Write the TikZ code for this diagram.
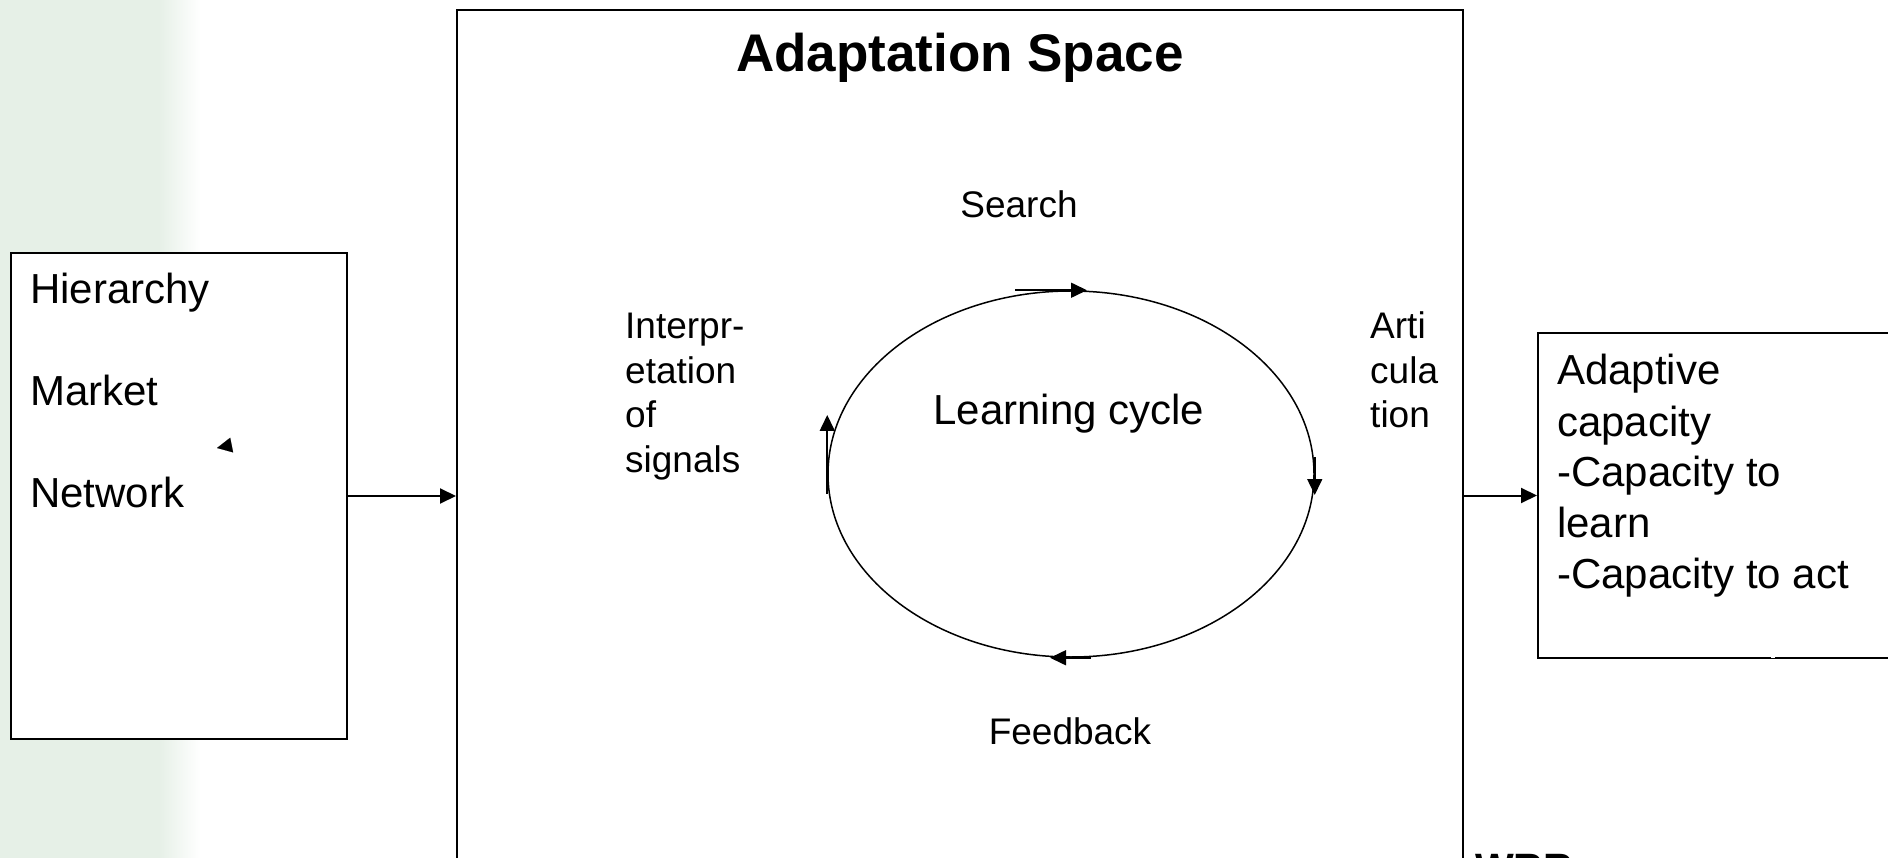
\documentclass[tikz,border=0pt]{standalone}
\usepackage{fontspec}
\setmainfont{Liberation Sans}
\usetikzlibrary{arrows.meta,shapes.geometric}
\definecolor{bgpale}{RGB}{230,240,231}
\begin{document}
\begin{tikzpicture}[x=1pt,y=-1pt,
  box/.style={draw, line width=2pt, inner sep=0pt, fill=white},
  arr/.style={line width=2pt, -{Triangle[length=16pt,width=15pt]}},
  carr/.style={line width=1.6pt, -{Triangle[length=16pt,width=15pt]}},
  lab/.style={anchor=base west, inner sep=0pt, font=\fontsize{37}{44}\selectfont},
  midlab/.style={anchor=base, inner sep=0pt, font=\fontsize{37}{44}\selectfont},
  biglab/.style={anchor=base west, inner sep=0pt, font=\fontsize{42}{50}\selectfont}
]
\useasboundingbox (0,0) rectangle (1888,858);
% pale decorative strip on the left
\fill[bgpale] (0,0) rectangle (160,858);
\shade[left color=bgpale, right color=white] (159,0) rectangle (200,858);

% boxes
\node[box, anchor=north west, minimum width=336pt, minimum height=486pt] (hier) at (10,252) {};
\node[box, anchor=north west, minimum width=1006pt, minimum height=900pt] (adapt) at (456,9) {};
\node[box, anchor=north west, minimum width=370pt, minimum height=325pt] (cap) at (1537,332) {};

% thin part of the right edge of the adaptation box
\coordinate (gA) at (1462,293);
\coordinate (gB) at (1462,617);
\draw[white, line width=2.8pt] (gA) -- (gB);
\draw[line width=1pt] (gA) -- (gB);
% small gap in the bottom edge of the right box
\coordinate (hA) at (1771,657);
\coordinate (hB) at (1775,657);
\draw[white, line width=2.8pt] (hA) -- (hB);

% left box texts
\node[biglab] (t1) at (30,304) {Hierarchy};
\node[biglab] (t2) at (30,405.5) {Market};
\node[biglab] (t3) at (30,507) {Network};
% stray arrowhead
\coordinate (sA) at (232,445);
\coordinate (sB) at (217,448);
\draw[line width=0.1pt, -{Triangle[length=15pt,width=15pt]}] (sA) -- (sB);

% title
\node[anchor=base, inner sep=0pt, font=\fontsize{53}{60}\selectfont\bfseries] (title) at (960,72) {Adaptation Space};

% learning cycle
\node[draw, ellipse, line width=1.5pt, minimum width=486pt, minimum height=366pt, inner sep=0pt] (cyc) at (1071,474) {};
\node[anchor=base, inner sep=0pt, font=\fontsize{42}{50}\selectfont] (lc) at (1069,425) {Learning cycle};
\draw[carr] ([xshift=-56pt]cyc.north) -- ([xshift=16pt]cyc.north);
\draw[carr] ([yshift=17pt]cyc.east) -- ([yshift=-21pt]cyc.east);
\draw[carr] ([xshift=20pt]cyc.south) -- ([xshift=-21pt]cyc.south);
\draw[carr] ([yshift=-20pt]cyc.west) -- ([yshift=59pt]cyc.west);

\node[midlab] (search) at (1019,218) {Search};
\node[midlab] (feed) at (1070,744) {Feedback};

\node[lab] (i1) at (625,339) {Interpr-};
\node[lab] (i2) at (625,383.5) {etation};
\node[lab] (i3) at (625,428) {of};
\node[lab] (i4) at (625,472.5) {signals};

\node[lab] (a1) at (1370,339) {Arti};
\node[lab] (a2) at (1370,383.5) {cula};
\node[lab] (a3) at (1370,428) {tion};

% right box texts
\node[biglab] (c1) at (1557,385) {Adaptive};
\node[biglab] (c2) at (1557,436) {capacity};
\node[biglab] (c3) at (1557,486.5) {-Capacity to};
\node[biglab] (c4) at (1557,537) {learn};
\node[biglab] (c5) at (1557,588) {-Capacity to act};

% connectors
\draw[arr] (hier.east) -- (hier.east -| adapt.west);
\draw[arr] (cap.west -| adapt.east) -- (cap.west);

% cut-off logo text
\node[anchor=base west, inner sep=0pt, font=\fontsize{41}{48}\selectfont\bfseries] (wrr) at (1475,882) {WRR};
\end{tikzpicture}
\end{document}
